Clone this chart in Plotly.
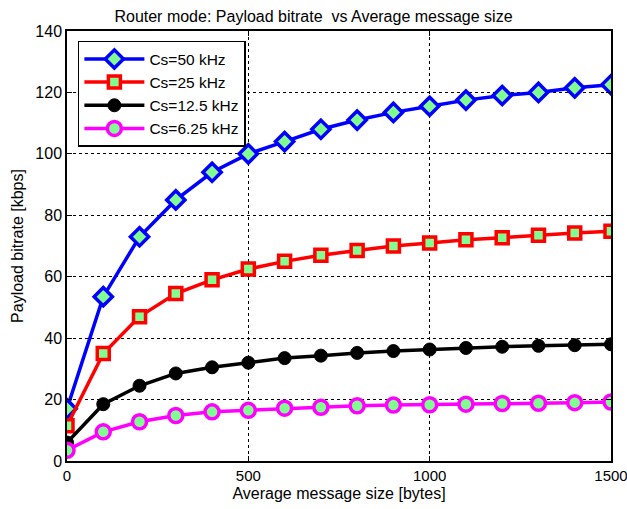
import plotly.graph_objects as go

x_bytes = [0, 100, 200, 300, 400, 500, 600, 700, 800, 900, 1000, 1100, 1200, 1300, 1400, 1500]
cs50 = [17, 53.5, 73, 85, 94, 100, 104, 108, 111, 113.5, 115.5, 117.5, 119, 120, 121.5, 122.5]
cs25 = [11.5, 35, 47, 54.5, 59, 62.5, 65, 67, 68.5, 70, 71, 72, 72.7, 73.5, 74.2, 74.8]
cs125 = [6, 18.5, 24.5, 28.5, 30.5, 32, 33.5, 34.3, 35.2, 35.8, 36.3, 36.8, 37.2, 37.5, 37.7, 38]
cs625 = [3.5, 9.5, 12.8, 14.8, 16, 16.5, 17.2, 17.5, 18, 18.2, 18.3, 18.5, 18.7, 18.8, 19, 19.2]
names = ["Cs=50 kHz", "Cs=25 kHz", "Cs=12.5 kHz", "Cs=6.25 kHz"]
x_ticks = [0, 500, 1000, 1500]
y_ticks = [0, 20, 40, 60, 80, 100, 120, 140]

FONT = "Liberation Sans, Arial, sans-serif"
fill = "#80FF90"
fig = go.Figure()
fig.add_trace(go.Scatter(x=x_bytes, y=cs50, name=names[0], mode="lines+markers",
                         line=dict(color="#0000FF", width=3.5),
                         marker=dict(symbol="diamond", size=14, color=fill, line=dict(color="#0000FF", width=3.5))))
fig.add_trace(go.Scatter(x=x_bytes, y=cs25, name=names[1], mode="lines+markers",
                         line=dict(color="#FF0000", width=3.5),
                         marker=dict(symbol="square", size=12, color=fill, line=dict(color="#FF0000", width=3.5))))
fig.add_trace(go.Scatter(x=x_bytes, y=cs125, name=names[2], mode="lines+markers",
                         line=dict(color="#000000", width=3.5),
                         marker=dict(symbol="circle", size=13, color="#000000", line=dict(color="#000000", width=1))))
fig.add_trace(go.Scatter(x=x_bytes, y=cs625, name=names[3], mode="lines+markers",
                         line=dict(color="#FF00FF", width=3.5),
                         marker=dict(symbol="circle", size=14, color=fill, line=dict(color="#FF00FF", width=3.5))))

axis_common = dict(showline=True, linecolor="black", linewidth=1.5, mirror="ticks",
                   ticks="inside", ticklen=5, tickcolor="black", automargin=False,
                   ticklabeloverflow="allow",
                   showgrid=True, gridcolor="black", griddash="dot", gridwidth=1,
                   zeroline=False)

W, H = 627, 509
fig.update_layout(
    width=W, height=H,
    margin=dict(l=67, r=16, t=31, b=48),
    paper_bgcolor="white", plot_bgcolor="white",
    title=dict(text="Router mode: Payload bitrate  vs Average message size",
               x=313.5 / W, xanchor="center", xref="container", yref="container", y=1 - 16/H, yanchor="middle",
               font=dict(family=FONT, size=16, color="black")),
    xaxis=dict(range=[0, 1500], tickvals=x_ticks,
               tickfont=dict(family=FONT, size=15, color="black"),
               title=dict(text="Average message size [bytes]", standoff=5,
                          font=dict(family=FONT, size=16, color="black")), **axis_common),
    yaxis=dict(range=[0, 140], tickvals=y_ticks,
               tickfont=dict(family=FONT, size=16, color="black"),
               title=dict(text="Payload bitrate [kbps]", standoff=8,
                          font=dict(family=FONT, size=16, color="black")), **axis_common),
    legend=dict(x=0.02, y=0.977, xanchor="left", yanchor="top",
                bgcolor="white", bordercolor="black", borderwidth=1.5,
                font=dict(family=FONT, size=15.5, color="black"),
                itemwidth=60, tracegroupgap=0),
    showlegend=True,
)

fig.write_html("out.html", config={"displayModeBar": False},
               post_script="document.body.style.margin='0';document.body.style.overflow='hidden';")
